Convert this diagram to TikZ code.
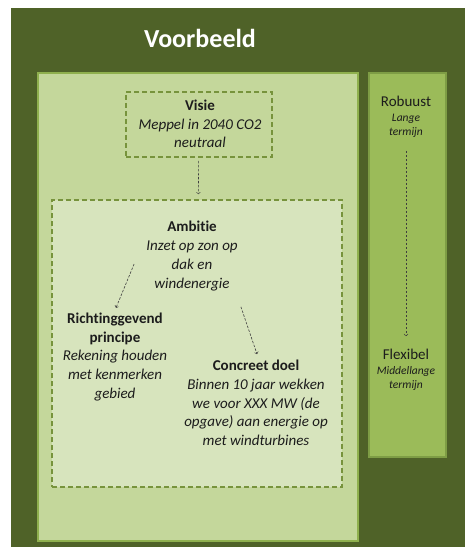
\documentclass[tikz,border=0pt]{standalone}
\usepackage{fontspec}
\setmainfont[Ligatures=NoCommon]{Carlito}
\usepackage{tikz}
\usetikzlibrary{arrows}

\definecolor{donker}{HTML}{4F6228}
\definecolor{paneel}{HTML}{C4D79B}
\definecolor{paneelrand}{HTML}{8FB04E}
\definecolor{kader}{HTML}{D7E4BD}
\definecolor{kaderrand}{HTML}{77933C}
\definecolor{kolomvlak}{HTML}{9BBB59}
\definecolor{kolomrand}{HTML}{7E9D45}
\definecolor{tekst}{HTML}{1C1C1C}

\tikzset{
  vlak/.style={rectangle, inner sep=0pt, line width=1.5pt},
  stippelkader/.style={draw=kaderrand, rectangle, inner sep=0pt, line width=1.6pt, dash pattern=on 5pt off 3pt},
  blok/.style={align=center, text=tekst, inner sep=1pt, font=\fontsize{15}{18.7}\selectfont},
  klein/.style={align=center, text=tekst, inner sep=1pt, font=\fontsize{11.5}{14}\selectfont},
  pijl/.style={->, draw=tekst!85, line width=0.6pt, dash pattern=on 2.5pt off 1.5pt}
}

\begin{document}
\begin{tikzpicture}[x=1pt, y=-1pt]
          \useasboundingbox (0,0) rectangle (465,548);
          % vlakken
          \node[vlak, fill=donker, minimum width=454pt, minimum height=539pt] (achtergrond) at (238,277.5) {};
          \node[vlak, draw=paneelrand, fill=paneel, minimum width=320pt, minimum height=468pt] (paneel) at (198,307) {};
          \node[vlak, draw=kolomrand, fill=kolomvlak, minimum width=77pt, minimum height=384pt] (kolom) at (407.5,265) {};
          \node[stippelkader, fill=paneel, minimum width=146pt, minimum height=65pt] (visiebox) at (199,124.5) {};
          \node[stippelkader, fill=kader, minimum width=290pt, minimum height=287pt] (kaderbox) at (197,343.5) {};
          \node[text=white, font=\fontsize{26}{30}\selectfont\bfseries] (titel) at (200,38) {Voorbeeld};
          % teksten
          \node[blok] (visie) at (200,124) {\textbf{Visie}\\\textit{Meppel in 2040 CO2}\\\textit{neutraal}};
          \node[blok] (ambitie) at (192,256) {\textbf{Ambitie}\\\textit{Inzet op zon op}\\\textit{dak en}\\\textit{windenergie}};
          \node[blok] (richting) at (115,357) {\textbf{Richtinggevend}\\\textbf{principe}\\\textit{Rekening houden}\\\textit{met kenmerken}\\\textit{gebied}};
          \node[blok] (concreet) at (256,403) {\textbf{Concreet doel}\\\textit{Binnen 10 jaar wekken}\\\textit{we voor XXX MW (de}\\\textit{opgave) aan energie op}\\\textit{met windturbines}};
          \node[klein] (robuust) at (406,117) {{\fontsize{15}{18}\selectfont Robuust}\\[1pt]\textit{Lange}\\\textit{termijn}};
          \node[klein] (flexibel) at (406,370) {{\fontsize{15}{18}\selectfont Flexibel}\\[1pt]\textit{Middellange}\\\textit{termijn}};
          % pijlen
          \draw[pijl, shorten <=3pt, shorten >=5pt] (visiebox) to (kaderbox);
          \draw[pijl] ([shift={(-11,8)}]ambitie.west) to ([shift={(1,-4)}]richting.north);
          \draw[pijl] ([shift={(2,15)}]ambitie.south east) to ([shift={(1,-5)}]concreet.north);
          \draw[pijl, shorten <=12pt, shorten >=12pt] (robuust) to (flexibel);
        \end{tikzpicture}
\end{document}
